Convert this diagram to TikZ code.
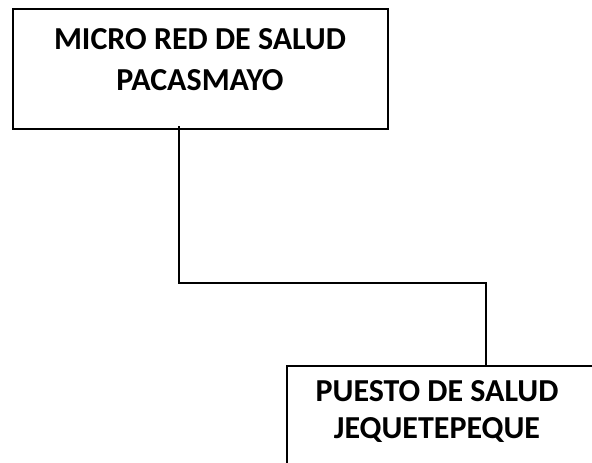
\documentclass[tikz,border=0pt]{standalone}
\usepackage{fontspec}
\setmainfont{Carlito}
\usetikzlibrary{calc}
\tikzset{
  box/.style={draw=black, line width=2.2pt, rectangle, inner sep=0pt},
  txt/.style={font=\fontsize{32}{41}\selectfont\bfseries, align=center, inner sep=0pt},
  conn/.style={draw=black, line width=2.2pt}
}
\begin{document}
\begin{tikzpicture}[x=1pt,y=-1pt]
\useasboundingbox (0,0) rectangle (592,463);
\clip (0,0) rectangle (592,463);
\node[box, minimum width=375pt, minimum height=120pt] (micro) at (200.5,69) {};
\node[txt] (microtxt) at (200,60) {MICRO RED DE SALUD\\PACASMAYO};
\node[box, minimum width=310pt, minimum height=120pt] (puesto) at (442,426) {};
\node[txt, font=\fontsize{32}{37}\selectfont\bfseries] (puestotxt) at (437,412) {PUESTO DE SALUD\\JEQUETEPEQUE};
\coordinate (a) at ($(micro.south west)+(167pt,4pt)$);
\coordinate (b) at ($(puesto.north west)+(200pt,0pt)$);
\coordinate (m) at (a |- 0,283);
\draw[conn] (a) -- (m) -| (b);
\end{tikzpicture}
\end{document}
